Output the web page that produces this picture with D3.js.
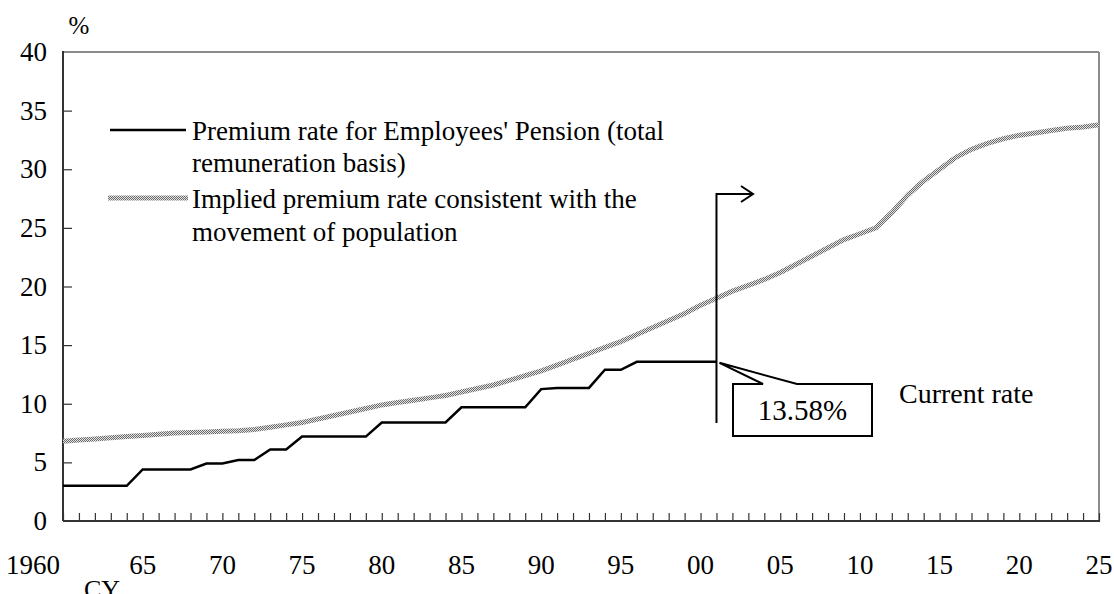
<!DOCTYPE html>
<html>
<head>
	<meta charset="utf-8">
	<title>Premium rate chart</title>
	<script src="https://d3js.org/d3.v7.min.js"></script>
	<style>
		body { margin: 0; background: #fff; }
		text { font-family: "Liberation Serif", "Times New Roman", serif; fill: #000; }
	</style>
</head>
<body>
	<script>

			// premium rate for Employees' Pension, 1960-2001 (total remuneration basis)
			var premiumStart = 1960;
			var premiumRates = [3.0, 3.0, 3.0, 3.0, 3.0, 4.4, 4.4, 4.4, 4.4, 4.9,
								4.9, 5.2, 5.2, 6.1, 6.1, 7.2, 7.2, 7.2, 7.2, 7.2,
								8.4, 8.4, 8.4, 8.4, 8.4, 9.7, 9.7, 9.7, 9.7, 9.7,
								11.25, 11.35, 11.35, 11.35, 12.9, 12.9, 13.58, 13.58, 13.58, 13.58,
								13.58, 13.58];

			// implied premium rate consistent with the movement of population, 1960-2025
			var impliedStart = 1960;
			var impliedRates = [6.8, 6.9, 7.0, 7.1, 7.2, 7.3, 7.4, 7.5, 7.55, 7.6,
								7.65, 7.7, 7.8, 8.0, 8.2, 8.4, 8.7, 9.0, 9.3, 9.6,
								9.9, 10.1, 10.3, 10.5, 10.7, 11.0, 11.3, 11.6, 12.0, 12.4,
								12.8, 13.3, 13.8, 14.3, 14.8, 15.3, 15.9, 16.5, 17.1, 17.7,
								18.4, 19.0, 19.6, 20.1, 20.6, 21.2, 21.9, 22.6, 23.3, 24.0,
								24.5, 25.0, 26.3, 27.8, 29.0, 30.0, 31.0, 31.7, 32.2, 32.6,
								32.9, 33.1, 33.3, 33.5, 33.6, 33.8];

			var xTickYears = [1960, 1965, 1970, 1975, 1980, 1985, 1990, 1995, 2000, 2005, 2010, 2015, 2020, 2025];
			var xTickLabels = ["1960", "65", "70", "75", "80", "85", "90", "95", "00", "05", "10", "15", "20", "25"];
			var yTicks = [0, 5, 10, 15, 20, 25, 30, 35, 40];

			var legendLabels = [
				["Premium rate for Employees' Pension (total", "remuneration basis)"],
				["Implied premium rate consistent with the", "movement of population"]
			];
			var currentYear = 2001;
			var currentLabel = "13.58%";
			var currentText = "Current rate";

			var premium = premiumRates.map(function (v, i) { return { year: premiumStart + i, value: v }; });
			var implied = impliedRates.map(function (v, i) { return { year: impliedStart + i, value: v }; });

			var width = 1114, height = 594;
			var pLeft = 63, pRight = 1099, pTop = 52, pBottom = 521;

			var x = d3.scaleLinear().domain([1960, 2025]).range([pLeft, pRight]);
			var y = d3.scaleLinear().domain([0, 40]).range([pBottom, pTop]);

			var svg = d3.select("body").append("svg")
						.attr("width", width)
						.attr("height", height);

			// checker pattern for the implied rate line
			var pat = svg.append("defs").append("pattern")
						.attr("id", "hatch")
						.attr("patternUnits", "userSpaceOnUse")
						.attr("width", 2)
						.attr("height", 2);
			pat.append("rect").attr("width", 2).attr("height", 2).attr("fill", "#e4e4e4");
			pat.append("rect").attr("width", 1).attr("height", 1).attr("fill", "#6a6a6a");
			pat.append("rect").attr("x", 1).attr("y", 1).attr("width", 1).attr("height", 1).attr("fill", "#6a6a6a");

			// frame: top and right in grey
			svg.append("line").attr("x1", pLeft).attr("x2", pRight).attr("y1", pTop).attr("y2", pTop)
				.attr("stroke", "#8c8c8c").attr("stroke-width", 2);
			svg.append("line").attr("x1", pRight).attr("x2", pRight).attr("y1", pTop).attr("y2", pBottom)
				.attr("stroke", "#8c8c8c").attr("stroke-width", 2);

			// x axis, one tick per year pointing up
			var xAxis = d3.axisTop(x)
						.tickValues(d3.range(1960, 2026))
						.tickSize(8)
						.tickFormat("");
			var gx = svg.append("g").attr("transform", "translate(0," + pBottom + ")").call(xAxis);
			gx.select(".domain").remove();
			gx.selectAll(".tick line").attr("stroke", "#333").attr("stroke-width", 1.2);

			// y axis, ticks pointing inwards
			var yAxis = d3.axisRight(y)
						.tickValues(yTicks.slice(1, -1))
						.tickSize(9)
						.tickFormat("");
			var gy = svg.append("g").attr("transform", "translate(" + pLeft + ",0)").call(yAxis);
			gy.select(".domain").remove();
			gy.selectAll(".tick line").attr("stroke", "#333").attr("stroke-width", 1.2);

			svg.append("line").attr("x1", pLeft).attr("x2", pRight + 1).attr("y1", pBottom).attr("y2", pBottom)
				.attr("stroke", "#333").attr("stroke-width", 2);
			svg.append("line").attr("x1", pLeft).attr("x2", pLeft).attr("y1", pTop - 1).attr("y2", pBottom)
				.attr("stroke", "#333").attr("stroke-width", 2);

			// tick labels
			svg.append("g").selectAll("text")
				.data(yTicks)
				.enter().append("text")
				.attr("x", 47)
				.attr("y", function (d) { return y(d) + 9; })
				.attr("text-anchor", "end")
				.attr("font-size", 27)
				.text(function (d) { return d; });

			svg.append("g").selectAll("text")
				.data(xTickYears)
				.enter().append("text")
				.attr("x", function (d) { return d === 1960 ? x(d) - 3 : x(d); })
				.attr("y", 574)
				.attr("text-anchor", function (d) { return d === 1960 ? "end" : "middle"; })
				.attr("font-size", 27)
				.text(function (d, i) { return xTickLabels[i]; });

			svg.append("text").attr("x", 79).attr("y", 34).attr("text-anchor", "middle")
				.attr("font-size", 25).text("%");
			svg.append("text").attr("x", 84).attr("y", 598).attr("font-size", 26).text("CY");

			var line = d3.line()
						.x(function (d) { return x(d.year); })
						.y(function (d) { return y(d.value); });

			svg.append("path")
				.datum(implied)
				.attr("d", line)
				.attr("fill", "none")
				.attr("stroke", "url(#hatch)")
				.attr("stroke-width", 5);

			svg.append("path")
				.datum(premium)
				.attr("d", line)
				.attr("fill", "none")
				.attr("stroke", "#000")
				.attr("stroke-width", 2.5);

			// legend
			var legend = svg.append("g");
			legend.append("line").attr("x1", 110).attr("x2", 186).attr("y1", 130).attr("y2", 130)
				.attr("stroke", "#000").attr("stroke-width", 2.5);
			legend.append("line").attr("x1", 108).attr("x2", 188).attr("y1", 198).attr("y2", 198)
				.attr("stroke", "url(#hatch)").attr("stroke-width", 5);
			var legendY = [[140, 172], [208, 241]];
			legendLabels.forEach(function (lines, i) {
				lines.forEach(function (t, j) {
					legend.append("text")
						.attr("x", 192)
						.attr("y", legendY[i][j])
						.attr("font-size", 27)
						.text(t);
				});
			});

			// current-rate marker and arrow
			var cx = x(currentYear);
			var cy = y(premiumRates[premiumRates.length - 1]);
			svg.append("path")
				.attr("d", "M" + cx + ",423V194H753")
				.attr("fill", "none").attr("stroke", "#000").attr("stroke-width", 2);
			svg.append("path")
				.attr("d", "M741,186L753,194L741,202")
				.attr("fill", "none").attr("stroke", "#000").attr("stroke-width", 2);

			// callout box
			var bx0 = 733, bx1 = 872, by0 = 384, by1 = 436;
			svg.append("path")
				.attr("d", "M" + bx0 + "," + by0 + "H763L" + (cx + 3) + "," + (cy + 1) + "L797," + by0 +
						"H" + bx1 + "V" + by1 + "H" + bx0 + "Z")
				.attr("fill", "#fff").attr("stroke", "#000").attr("stroke-width", 2);
			svg.append("text").attr("x", (bx0 + bx1) / 2).attr("y", 420)
				.attr("text-anchor", "middle").attr("font-size", 29).text(currentLabel);
			svg.append("text").attr("x", 899).attr("y", 403)
				.attr("font-size", 28).text(currentText);

	</script>
</body>
</html>
